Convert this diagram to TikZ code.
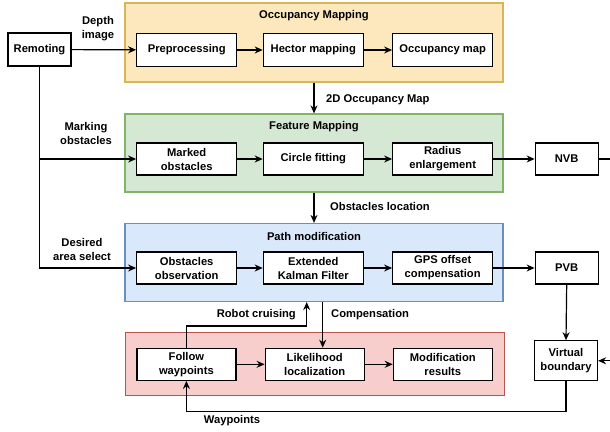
\documentclass[tikz,border=0pt]{standalone}
\usepackage{fontspec}
\setmainfont{Liberation Sans}
\usetikzlibrary{arrows.meta}
\definecolor{yfill}{HTML}{FCE8BC}
\definecolor{ydraw}{HTML}{D6B656}
\definecolor{gfill}{HTML}{D5E8D4}
\definecolor{gdraw}{HTML}{82B366}
\definecolor{bfill}{HTML}{DAE8FC}
\definecolor{bdraw}{HTML}{6C8EBF}
\definecolor{rfill}{HTML}{F8CECC}
\definecolor{rdraw}{HTML}{B85450}
\begin{document}
\begin{tikzpicture}[x=1pt,y=-1pt,
  every node/.style={font=\fontsize{11.2}{14}\selectfont\bfseries},
  box/.style={draw=black, fill=white, line width=1.2pt, minimum width=100pt, minimum height=32pt, align=center, inner sep=1pt},
  sbox/.style={box, minimum width=63pt},
  grp/.style={line width=1.2pt, inner sep=0pt},
  ttl/.style={inner sep=0pt},
  lbl/.style={align=center, inner sep=0pt},
  arr/.style={line width=1.2pt, -{Stealth[length=8pt,width=7pt]}},
  ln/.style={line width=1.2pt}]
\useasboundingbox (0,0) rectangle (610,431);
% groups
\node[grp, draw=ydraw, fill=yfill, minimum width=378pt, minimum height=79pt] (occ) at (314,42.5) {};
\node[grp, draw=gdraw, fill=gfill, minimum width=378pt, minimum height=78pt] (feat) at (314,153) {};
\node[grp, draw=bdraw, fill=bfill, minimum width=378pt, minimum height=78pt] (pm) at (314,262.5) {};
\node[grp, draw=rdraw, fill=rfill, minimum width=379pt, minimum height=63pt] (red) at (314.6,364.3) {};
\node[ttl] (occt) at (314,16) {Occupancy Mapping};
\node[ttl] (featt) at (314,127) {Feature Mapping};
\node[ttl] (pmt) at (314,236) {Path modification};
% boxes
\node[sbox, minimum height=33pt] (rem) at (39.5,49.5) {Remoting};
\node[box, minimum height=33pt] (pre) at (186.7,50) {Preprocessing};
\node[box, minimum height=33pt] (hec) at (313.3,50) {Hector mapping};
\node[box, minimum height=33pt] (om) at (442.7,50) {Occupancy map};
\node[box] (mob) at (186.7,159) {Marked\\obstacles};
\node[box] (cir) at (313.3,159) {Circle fitting};
\node[box] (rad) at (442.7,159) {Radius\\enlargement};
\node[sbox] (nvb) at (566.7,159) {NVB};
\node[box] (obs) at (186.7,268) {Obstacles\\observation};
\node[box] (ekf) at (313.3,268) {Extended\\Kalman Filter};
\node[box] (gps) at (442.7,268) {GPS offset\\compensation};
\node[sbox] (pvb) at (566.7,268) {PVB};
\node[box, minimum width=99pt] (fw) at (186.4,364.3) {Follow\\waypoints};
\node[box, minimum width=99pt] (lik) at (314.7,364.3) {Likelihood\\localization};
\node[box, minimum width=99pt] (mod) at (442.8,364.3) {Modification\\results};
\node[sbox, minimum height=40pt] (vb) at (566,360.8) {Virtual\\boundary};
% connectors
\draw[arr] (rem) -- (pre);
\draw[arr] (pre) -- (hec);
\draw[arr] (hec) -- (om);
\draw[arr] (rem.south) |- (mob.west);
\draw[arr] (rem.south) |- (obs.west);
\draw[arr] (mob) -- (cir);
\draw[arr] (cir) -- (rad);
\draw[arr] (rad) -- (nvb);
\draw[arr] (obs) -- (ekf);
\draw[arr] (ekf) -- (gps);
\draw[arr] (gps) -- (pvb);
\draw[arr] (fw) -- (lik);
\draw[arr] (lik) -- (mod);
\draw[arr] (occ.south) -- (feat.north);
\draw[arr] (feat.south) -- (pm.north);
\draw[arr] (pvb.south) -- (vb.north);
\coordinate (nvbr) at (625,159);
\draw[arr] (nvb.east) -- (nvbr) |- (vb.east);
\coordinate (wp) at (566,411.7);
\draw[arr] (vb.south) -- (wp) -| (fw.south);
\coordinate (rc) at (306.7,326);
\draw[arr] (fw.north) |- (rc) -- (rc |- pm.south);
\coordinate (cp) at (322.7,326);
\draw[arr] (cp |- pm.south) -- (cp |- lik.north);
% labels
\node[lbl] (l1) at (98,28.5) {Depth\\image};
\node[lbl] (l2) at (86,133.5) {Marking\\obstacles};
\node[lbl] (l3) at (82,249) {Desired\\area select};
\node[lbl, anchor=west] (l4) at (326,100) {2D Occupancy Map};
\node[lbl, anchor=west] (l5) at (330,206) {Obstacles location};
\node[lbl, anchor=east] (l6) at (296,315) {Robot cruising};
\node[lbl, anchor=west] (l7) at (331,315) {Compensation};
\node[lbl] (l8) at (232,420.5) {Waypoints};
\end{tikzpicture}
\end{document}
